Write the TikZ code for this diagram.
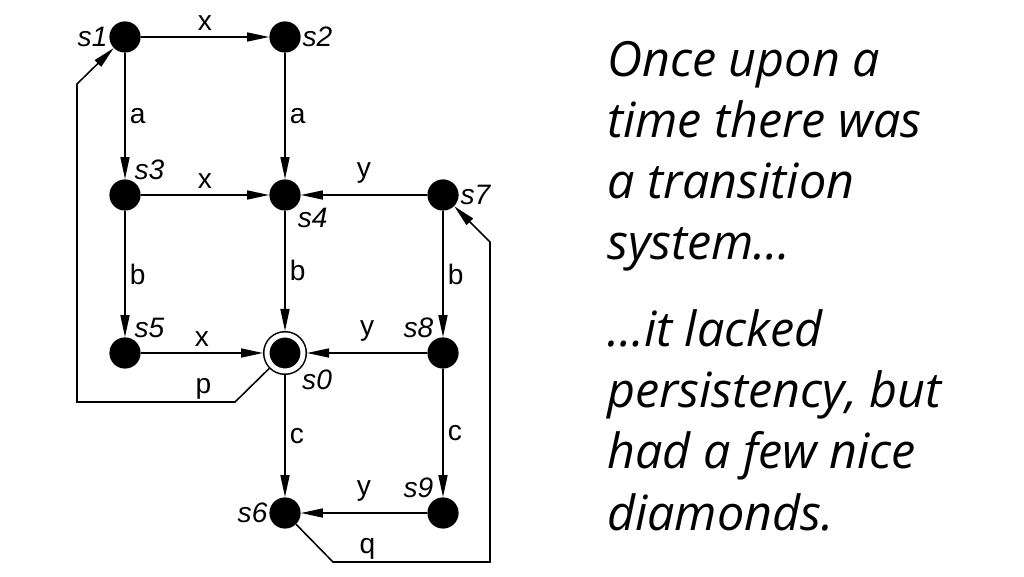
\documentclass[tikz,border=0pt]{standalone}
\usepackage{fontspec}
\setmainfont{Liberation Sans}
\newfontfamily\storyfont{Open Sans}
\usetikzlibrary{arrows.meta}

\begin{document}
\begin{tikzpicture}[
    state/.style={circle, fill=black, inner sep=0pt, minimum size=0.78cm},
    final/.style={circle, fill=black, draw=black, line width=1.1pt, double=white, double distance=0.125cm, inner sep=0pt, minimum size=0.9cm, outer sep=0.1cm},
    tag/.style={font=\fontsize{20}{24}\selectfont\itshape, inner sep=1pt},
    lbl/.style={font=\fontsize{20}{24}\selectfont, inner sep=1pt},
    arrow/.style={-{Triangle[length=0.55cm, width=0.225cm]}, line width=1.1pt},
    story/.style={font=\storyfont\itshape\fontsize{34.5}{43.5}\selectfont, align=left, inner sep=0pt}
]
\useasboundingbox (0,0) rectangle (25.6,14.4);

% States
\node[state, label={[tag]180:s1}] (s1) at (3.125, 13.475) {};
\node[state, label={[tag]0:s2}] (s2) at (7.125, 13.475) {};
\node[state, label={[tag]60:s3}] (s3) at (3.125, 9.525) {};
\node[state, label={[tag]-45:s4}] (s4) at (7.125, 9.525) {};
\node[state, label={[tag]0:s7}] (s7) at (11.075, 9.525) {};
\node[state, label={[tag]60:s5}] (s5) at (3.125, 5.575) {};
\node[final, label={[tag]-45:s0}] (s0) at (7.125, 5.575) {};
\node[state, label={[tag]120:s8}] (s8) at (11.075, 5.575) {};
\node[state, label={[tag]180:s6}] (s6) at (7.125, 1.575) {};
\node[state, label={[tag]120:s9}] (s9) at (11.075, 1.575) {};

% Corners of the two long loops
\coordinate (p1) at (5.875, 4.35);
\coordinate (p2) at (1.925, 4.35);
\coordinate (p3) at (1.925, 12.3);
\coordinate (q1) at (8.325, 0.35);
\coordinate (q2) at (12.25, 0.35);
\coordinate (q3) at (12.25, 8.35);

% Transitions
\draw[arrow] (s1) -- node[lbl, above=3pt] {x} (s2);
\draw[arrow] (s1) -- node[lbl, right=2pt] {a} (s3);
\draw[arrow] (s2) -- node[lbl, right=2pt] {a} (s4);
\draw[arrow] (s3) -- node[lbl, above=3pt] {x} (s4);
\draw[arrow] (s7) -- node[lbl, above=7pt] {y} (s4);
\draw[arrow] (s3) -- node[lbl, right=2pt] {b} (s5);
\draw[arrow] (s4) -- node[lbl, right=2pt] {b} (s0);
\draw[arrow] (s7) -- node[lbl, right=2pt] {b} (s8);
\draw[arrow] (s5) -- node[lbl, above=3pt] {x} (s0);
\draw[arrow] (s8) -- node[lbl, above=7pt] {y} (s0);
\draw[arrow] (s0) -- node[lbl, right=2pt] {c} (s6);
\draw[arrow] (s8) -- node[lbl, right=2pt] {c} (s9);
\draw[arrow] (s9) -- node[lbl, above=7pt] {y} (s6);
\draw[arrow] (s0) -- (p1) -- node[lbl, pos=0.2, above=0pt] {p} (p2) -- (p3) -- (s1);
\draw[arrow] (s6) -- (q1) -- node[lbl, pos=0.22, above=0pt] {q} (q2) -- (q3) -- (s7);

% Story
\node[story, anchor=base west] (tale) at (15.175, 7.9) {Once upon a\\time there was\\a transition\\system…};
\node[story, anchor=base west] (moral) at (15.175, 1.15) {…it lacked\\persistency, but\\had a few nice\\diamonds.};

\end{tikzpicture}
\end{document}
